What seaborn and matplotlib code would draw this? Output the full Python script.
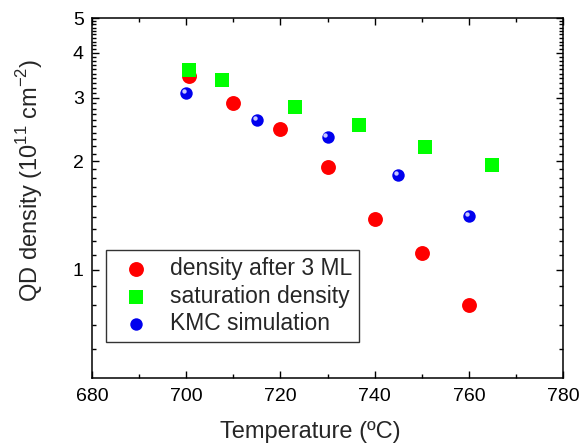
import numpy as np
import pandas as pd
import matplotlib
matplotlib.use("Agg")
import matplotlib.pyplot as plt
import matplotlib.transforms as mtransforms
from matplotlib.ticker import FixedLocator, NullFormatter, FixedFormatter
import seaborn as sns

# --- data ---
temp_3ml = [700.5, 710, 720, 730, 740, 750, 760]
dens_3ml = [3.44, 2.91, 2.46, 1.93, 1.385, 1.115, 0.795]

temp_sat = [700.6, 707.6, 723.1, 736.7, 750.7, 764.9]
dens_sat = [3.58, 3.36, 2.83, 2.52, 2.19, 1.95]

temp_kmc = [700, 715, 730, 745, 760]
dens_kmc = [3.10, 2.61, 2.33, 1.835, 1.41]

y_major = [1, 2, 3, 4, 5]
y_major_labels = ["1", "2", "3", "4", "5"]

sns.set_style("ticks")
plt.rcParams['font.family'] = ['Liberation Sans', 'DejaVu Sans']
plt.rcParams['mathtext.fontset'] = 'custom'
plt.rcParams['mathtext.rm'] = 'Liberation Sans'

fig = plt.figure(figsize=(5.79, 4.46), dpi=100)
ax = fig.add_axes([0.159, 0.1525, 0.8135, 0.8071])

df_3ml = pd.DataFrame({"T": temp_3ml, "n": dens_3ml})
df_sat = pd.DataFrame({"T": temp_sat, "n": dens_sat})
df_kmc = pd.DataFrame({"T": temp_kmc, "n": dens_kmc})

sns.scatterplot(data=df_3ml, x="T", y="n", ax=ax, color="#ff0000", marker="o",
                s=115, linewidth=0, label="density after 3 ML", zorder=3)
sns.scatterplot(data=df_sat, x="T", y="n", ax=ax, color="#00ff00", marker="s",
                s=95, linewidth=0, label="saturation density", zorder=4)
sns.scatterplot(data=df_kmc, x="T", y="n", ax=ax, color="#0000ee", marker="o",
                s=80, linewidth=0, label="KMC simulation", zorder=3)
# small highlight on the blue spheres
shine = mtransforms.offset_copy(ax.transData, fig=fig, x=-1.5, y=1.5, units='points')
ax.scatter(df_kmc["T"], df_kmc["n"], s=10, color="#c8c8ff", linewidth=0,
           transform=shine, zorder=5)

ax.set_yscale("log")
ax.set_xlim(680, 780)
ax.set_ylim(0.5, 5)
ax.set_xticks(np.arange(680, 781, 20))
ax.set_xticks(np.arange(690, 780, 20), minor=True)
ax.yaxis.set_major_locator(FixedLocator(y_major))
ax.yaxis.set_major_formatter(FixedFormatter(y_major_labels))
minor = [0.6, 0.7, 0.8, 0.9] + [round(v, 1) for v in np.arange(1.1, 5.0, 0.1)
                                 if abs(v - round(v)) > 1e-6]
ax.yaxis.set_minor_locator(FixedLocator(minor))
ax.yaxis.set_minor_formatter(NullFormatter())

for s in ax.spines.values():
    s.set_visible(True)
    s.set_linewidth(1.1)
    s.set_color("black")
ax.tick_params(which="both", direction="in", top=True, right=True,
               labelsize=14, colors="black", width=1.0)
ax.tick_params(which="major", length=5, pad=7)
ax.tick_params(axis="y", which="major", pad=6)
ax.tick_params(which="minor", length=3)

ax.set_xlabel("Temperature (ºC)", fontsize=17)
ax.set_ylabel("QD density (10$^{11}$ cm$^{-2}$)", fontsize=17)
ax.xaxis.set_label_coords(0.463, -0.12)
ax.yaxis.set_label_coords(-0.099, 0.55)

leg = ax.legend(loc="lower left", bbox_to_anchor=(0.03, 0.1), fontsize=16.5,
                frameon=True, fancybox=False, edgecolor="black",
                handletextpad=0.5, borderpad=0.3, labelspacing=0.2,
                handlelength=2.0, borderaxespad=0)
leg.get_frame().set_linewidth(1.0)

fig.savefig("out.png", dpi=100)
